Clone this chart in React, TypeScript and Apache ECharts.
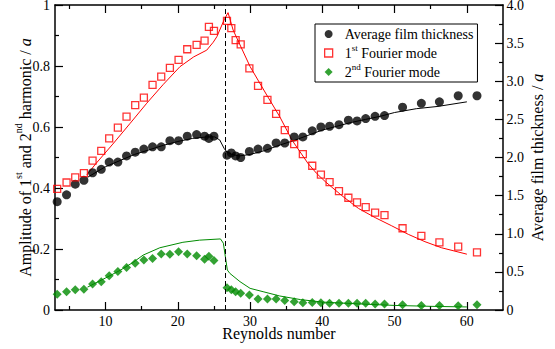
import React, { useEffect, useRef } from "react";
import * as echarts from "echarts";

// Reynolds numbers of the measured points
const reynolds = [3.3, 4.6, 5.8, 7.0, 8.2, 9.4, 10.5, 11.7, 12.9, 14.1, 15.3, 16.5, 17.7, 18.9, 20.1, 21.3, 22.6, 23.7, 24.3, 25.0, 26.8, 27.4, 28.0, 28.7, 29.9, 31.1, 32.4, 33.6, 34.8, 36.1, 37.3, 38.6, 39.8, 41.0, 42.3, 43.6, 44.8, 46.0, 47.3, 48.6, 51.1, 53.7, 56.2, 58.8, 61.4];
// Average film thickness (right axis)
const thickness = [1.42, 1.51, 1.65, 1.70, 1.80, 1.845, 1.94, 1.94, 2.02, 2.07, 2.11, 2.14, 2.14, 2.22, 2.22, 2.28, 2.30, 2.28, 2.25, 2.28, 2.03, 2.06, 2.02, 2.00, 2.08, 2.11, 2.12, 2.19, 2.19, 2.27, 2.27, 2.35, 2.40, 2.41, 2.43, 2.49, 2.48, 2.51, 2.54, 2.55, 2.66, 2.71, 2.73, 2.81, 2.81];
// 1st Fourier mode amplitude (left axis)
const mode1 = [0.397, 0.418, 0.435, 0.449, 0.490, 0.522, 0.563, 0.598, 0.634, 0.672, 0.696, 0.738, 0.765, 0.794, 0.820, 0.855, 0.869, 0.883, 0.928, 0.915, 0.948, 0.924, 0.885, 0.871, 0.792, 0.735, 0.689, 0.643, 0.590, 0.544, 0.511, 0.473, 0.444, 0.419, 0.390, 0.368, 0.353, 0.337, 0.319, 0.311, 0.268, 0.243, 0.222, 0.208, 0.189];
// 2nd Fourier mode amplitude (left axis)
const mode2 = [0.052, 0.060, 0.066, 0.068, 0.085, 0.093, 0.112, 0.126, 0.139, 0.153, 0.164, 0.169, 0.184, 0.183, 0.191, 0.184, 0.178, 0.166, 0.176, 0.162, 0.073, 0.066, 0.060, 0.055, 0.049, 0.036, 0.036, 0.036, 0.031, 0.027, 0.024, 0.025, 0.024, 0.022, 0.022, 0.022, 0.022, 0.022, 0.020, 0.020, 0.017, 0.015, 0.015, 0.014, 0.017];

// Model curves
const thicknessModelRe = [7.5, 10, 12, 14, 16, 18, 20, 22, 24, 25.1, 25.8, 26.4, 26.8, 27.5, 28.5, 30, 32, 34, 36, 38, 40, 42, 44, 46, 48, 50, 53, 56, 60];
const thicknessModel = [1.74, 1.88, 1.96, 2.04, 2.1, 2.16, 2.21, 2.25, 2.27, 2.27, 2.23, 2.12, 2.07, 2.04, 2.02, 2.04, 2.09, 2.16, 2.22, 2.29, 2.36, 2.41, 2.46, 2.5, 2.54, 2.59, 2.64, 2.67, 2.73];
const mode1ModelRe = [7.4, 8.7, 11.0, 13.4, 15.7, 18.0, 20.3, 22.2, 24.0, 24.9, 25.4, 26.4, 26.95, 27.65, 30.0, 32.3, 34.1, 35.8, 38.0, 39.2, 40.4, 42.7, 45.0, 47.3, 49.6, 51.9, 54.2, 56.5, 60];
const mode1Model = [0.443, 0.481, 0.544, 0.612, 0.678, 0.74, 0.798, 0.83, 0.852, 0.878, 0.896, 0.951, 0.975, 0.918, 0.798, 0.705, 0.634, 0.557, 0.481, 0.448, 0.421, 0.375, 0.333, 0.303, 0.276, 0.248, 0.224, 0.204, 0.183];
const mode2ModelRe = [7.5, 10, 12, 13.8, 15.2, 17.5, 20.7, 23, 25.9, 26.3, 26.85, 27.2, 28.6, 30, 31.8, 34.1, 37, 40, 45, 50, 55, 60];
const mode2Model = [0.075, 0.105, 0.13, 0.156, 0.18, 0.204, 0.222, 0.229, 0.233, 0.219, 0.131, 0.12, 0.093, 0.071, 0.06, 0.046, 0.034, 0.026, 0.02, 0.015, 0.012, 0.01];

const transitionRe = 26.5;

const xMajorTicks = [10, 20, 30, 40, 50, 60];
const xMinorTicks = [5, 15, 25, 35, 45, 55];

const FONT = "'Liberation Serif', 'Times New Roman', 'DejaVu Serif', serif";
const RED = "#ff0000";
const GREEN = "#008b00";

const zip = (xs: number[], ys: number[]) => xs.map((x, i) => [x, ys[i]]);

export default function App() {
  const ref = useRef<HTMLDivElement>(null);
  useEffect(() => {
    document.body.style.margin = "0";
    if (!ref.current) return;
    const chart = echarts.init(ref.current, undefined, { renderer: "svg" });

    const baseX = {
      type: "value",
      min: 3,
      max: 65,
      gridIndex: 0,
      splitLine: { show: false },
    };
    const lineStyle = { color: "#000", width: 1.5 };
    const tickStyle = { color: "#000", width: 1.2 };

    const option: any = {
      animation: false,
      textStyle: { fontFamily: FONT },
      grid: { left: 55, right: 52, top: 5, bottom: 39, containLabel: false, outerBoundsMode: "none" },
      legend: {
        left: 315,
        top: 24,
        orient: "vertical",
        padding: [0.5, 4, 0.5, 9],
        itemWidth: 8,
        itemHeight: 8,
        itemGap: 0,
        borderColor: "#000",
        borderWidth: 1,
        borderRadius: 0,
        backgroundColor: "#fff",
        selectedMode: false,
        data: [
          { name: "Average film thickness", icon: "circle", itemStyle: { color: "#000" } },
          { name: "1st Fourier mode", icon: "rect", itemStyle: { color: "#fff", borderColor: RED, borderWidth: 1.3 } },
          { name: "2nd Fourier mode", icon: "diamond", itemStyle: { color: GREEN } },
        ],
        formatter: (name: string) =>
          name === "1st Fourier mode"
            ? "1{sup|st} Fourier mode"
            : name === "2nd Fourier mode"
            ? "2{sup|nd} Fourier mode"
            : name,
        textStyle: {
          fontFamily: FONT,
          fontSize: 14,
          color: "#000",
          lineHeight: 19,
          padding: [0, 0, 0, 7],
          rich: {
            sup: { fontFamily: FONT, fontSize: 9, lineHeight: 9, verticalAlign: "top", color: "#000" },
          },
        },
      },
      xAxis: [
        {
          ...baseX,
          position: "bottom",
          axisLine: { show: true, lineStyle },
          axisTick: { show: true, inside: true, length: 8, lineStyle: tickStyle, customValues: xMajorTicks },
          axisLabel: { show: true, customValues: xMajorTicks, fontFamily: FONT, fontSize: 14, color: "#000", margin: 4 },
          name: "Reynolds number",
          nameLocation: "middle",
          nameGap: 13,
          nameMoveOverlap: false,
          nameTextStyle: { fontFamily: FONT, fontSize: 16, color: "#000", lineHeight: 20 },
        },
        {
          ...baseX,
          position: "bottom",
          axisLine: { show: false },
          axisTick: { show: true, inside: true, length: 4, lineStyle: tickStyle, customValues: xMinorTicks },
          axisLabel: { show: false },
        },
        {
          ...baseX,
          position: "top",
          axisLine: { show: true, lineStyle },
          axisTick: { show: true, inside: true, length: 8, lineStyle: tickStyle, customValues: xMajorTicks },
          axisLabel: { show: false },
        },
        {
          ...baseX,
          position: "top",
          axisLine: { show: false },
          axisTick: { show: true, inside: true, length: 4, lineStyle: tickStyle, customValues: xMinorTicks },
          axisLabel: { show: false },
        },
      ],
      yAxis: [
        {
          type: "value",
          position: "left",
          min: 0,
          max: 1,
          interval: 0.2,
          splitLine: { show: false },
          axisLine: { show: true, lineStyle },
          axisTick: { show: true, inside: true, length: 8, lineStyle: tickStyle },
          minorTick: { show: true, splitNumber: 2, length: 4, lineStyle: tickStyle },
          minorSplitLine: { show: false },
          axisLabel: {
            fontFamily: FONT,
            fontSize: 14,
            color: "#000",
            margin: 5,
            formatter: (v: number) => (v === 0 ? "0" : v === 1 ? "1" : v.toFixed(1)),
          },
          name: "Amplitude of 1{sup|st} and 2{sup|nd} harmonic / {it|a}",
          nameLocation: "middle",
          nameGap: 17.5,
          nameMoveOverlap: false,
          nameTextStyle: {
            fontFamily: FONT,
            fontSize: 16,
            color: "#000",
            lineHeight: 24,
            rich: {
              sup: { fontFamily: FONT, fontSize: 10, lineHeight: 10, verticalAlign: "top", color: "#000" },
              it: { fontFamily: FONT, fontSize: 16, fontStyle: "italic", lineHeight: 24, color: "#000" },
            },
          },
        },
        {
          type: "value",
          position: "right",
          min: 0,
          max: 4,
          interval: 0.5,
          splitLine: { show: false },
          axisLine: { show: true, lineStyle },
          axisTick: { show: true, inside: true, length: 8, lineStyle: tickStyle },
          minorTick: { show: true, splitNumber: 2, length: 4, lineStyle: tickStyle },
          minorSplitLine: { show: false },
          axisLabel: {
            fontFamily: FONT,
            fontSize: 14,
            color: "#000",
            margin: 3.5,
            formatter: (v: number) => (v === 0 ? "0" : v.toFixed(1)),
          },
          name: "Average film thickness / {it|a}",
          nameLocation: "middle",
          nameGap: 24,
          nameMoveOverlap: false,
          nameTextStyle: {
            fontFamily: FONT,
            fontSize: 16,
            color: "#000",
            lineHeight: 20,
            rich: {
              it: { fontFamily: FONT, fontSize: 16, fontStyle: "italic", lineHeight: 20, color: "#000" },
            },
          },
        },
      ],
      series: [
        {
          name: "thickness model",
          type: "line",
          xAxisIndex: 0,
          yAxisIndex: 1,
          data: zip(thicknessModelRe, thicknessModel),
          showSymbol: false,
          lineStyle: { color: "#000", width: 1 },
          z: 2,
          markLine: {
            silent: true,
            symbol: ["none", "none"],
            label: { show: false },
            lineStyle: { color: "#000", width: 1, type: [5, 3] },
            data: [{ xAxis: transitionRe }],
          },
        },
        {
          name: "mode1 model",
          type: "line",
          xAxisIndex: 0,
          yAxisIndex: 0,
          data: zip(mode1ModelRe, mode1Model),
          showSymbol: false,
          lineStyle: { color: RED, width: 1 },
          z: 2,
        },
        {
          name: "mode2 model",
          type: "line",
          xAxisIndex: 0,
          yAxisIndex: 0,
          data: zip(mode2ModelRe, mode2Model),
          showSymbol: false,
          lineStyle: { color: GREEN, width: 1 },
          z: 2,
        },
        {
          name: "Average film thickness",
          type: "scatter",
          xAxisIndex: 0,
          yAxisIndex: 1,
          data: zip(reynolds, thickness),
          symbol: "circle",
          symbolSize: 9,
          itemStyle: { color: "#000" },
          z: 3,
        },
        {
          name: "1st Fourier mode",
          type: "scatter",
          xAxisIndex: 0,
          yAxisIndex: 0,
          data: zip(reynolds, mode1),
          symbol: "rect",
          symbolSize: 7,
          itemStyle: { color: "rgba(255,255,255,0)", borderColor: RED, borderWidth: 1.3 },
          z: 3,
        },
        {
          name: "2nd Fourier mode",
          type: "scatter",
          xAxisIndex: 0,
          yAxisIndex: 0,
          data: zip(reynolds, mode2),
          symbol: "diamond",
          symbolSize: 9,
          itemStyle: { color: GREEN },
          z: 3,
        },
      ],
    };

    chart.setOption(option);
    return () => chart.dispose();
  }, []);

  return <div ref={ref} style={{ width: 555, height: 349 }} />;
}
